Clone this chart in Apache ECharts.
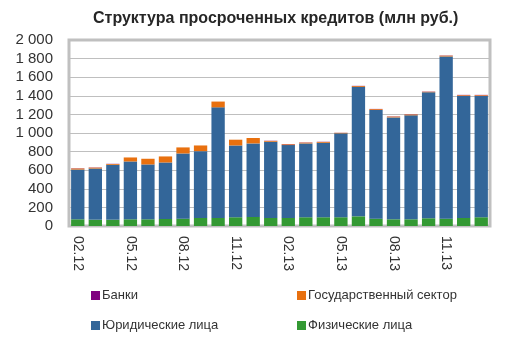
<!DOCTYPE html>
<html>
<head>
<meta charset="utf-8">
<script src="https://cdn.jsdelivr.net/npm/echarts@6/dist/echarts.min.js"></script>
<style>
  html, body { margin: 0; padding: 0; background: #ffffff; }
  #chart { width: 516px; height: 346px; }
</style>
</head>
<body>
<div id="chart"></div>
<script>
// Months shown on the category axis
const months = ['02.12','03.12','04.12','05.12','06.12','07.12','08.12','09.12','10.12','11.12','12.12','01.13',
                '02.13','03.13','04.13','05.13','06.13','07.13','08.13','09.13','10.13','11.13','12.13','01.14'];

// Overdue loans by borrower group, mln rub.
const individuals = [72, 68, 68, 72, 72, 75, 79, 86, 86, 94, 97, 86,
                     87, 94, 94, 94, 104, 79, 72, 72, 83, 79, 87, 94];
const companies   = [535, 550, 590, 622, 590, 608, 701, 719, 1190, 772, 791, 820,
                     783, 794, 801, 902, 1392, 1169, 1096, 1118, 1355, 1744, 1312, 1305];
const government  = [12, 10, 9, 43, 61, 65, 65, 61, 62, 62, 58, 9,
                     9, 9, 9, 6, 9, 9, 9, 9, 6, 9, 8, 8];
const banks       = [2, 2, 2, 0, 0, 0, 0, 0, 0, 0, 0, 2,
                     2, 2, 2, 1, 2, 2, 2, 2, 2, 2, 3, 3];

const yTicks = { min: 0, max: 2000, step: 200 };

const FONT = 'Liberation Sans, Arial, sans-serif';
const TXT = '#333333';

const names = {
  banks: 'Банки',
  gov: 'Государственный сектор',
  comp: 'Юридические лица',
  ind: 'Физические лица'
};
const colors = {
  banks: '#800080',
  gov: '#e8700f',
  comp: '#336699',
  ind: '#339933'
};

function fmtThousands(v) {
  return String(v).replace(/\B(?=(\d{3})+(?!\d))/g, ' ');
}

function legendAt(name, left, top) {
  return {
    data: [name],
    left: left,
    top: top,
    icon: 'rect',
    itemWidth: 9,
    itemHeight: 9,
    itemGap: 0,
    padding: 0,
    selectedMode: false,
    textStyle: { fontFamily: FONT, fontSize: 13, color: TXT, padding: [0, 0, 0, -3] }
  };
}

function barSeries(key, data) {
  return {
    name: names[key],
    type: 'bar',
    stack: 'total',
    data: data,
    barCategoryGap: '24%',
    itemStyle: { color: colors[key] },
    emphasis: { disabled: true }
  };
}

const chart = echarts.init(document.getElementById('chart'), null, { renderer: 'canvas' });

chart.setOption({
  animation: false,
  backgroundColor: '#ffffff',
  title: {
    text: 'Структура просроченных кредитов (млн руб.)',
    left: 88,
    top: 6,
    textStyle: { fontFamily: FONT, fontSize: 16, fontWeight: 'bold', color: '#262626' }
  },
  legend: [
    legendAt(names.banks, 91, 289),
    legendAt(names.gov, 297, 289),
    legendAt(names.comp, 91, 319),
    legendAt(names.ind, 297, 319)
  ],
  grid: {
    left: 69,
    right: 26,
    top: 40,
    bottom: 120,
    show: true,
    borderColor: '#c0c0c0',
    borderWidth: 3,
    backgroundColor: '#ffffff'
  },
  xAxis: {
    type: 'category',
    data: months,
    axisLine: { show: false },
    axisTick: { show: false },
    axisLabel: {
      interval: 2,
      rotate: -90,
      margin: 10,
      fontFamily: FONT,
      fontSize: 14,
      color: TXT
    }
  },
  yAxis: {
    type: 'value',
    min: yTicks.min,
    max: yTicks.max,
    interval: yTicks.step,
    axisLine: { show: false },
    axisTick: { show: false },
    splitLine: { lineStyle: { color: '#bfbfbf', width: 1 } },
    axisLabel: {
      margin: 16,
      fontFamily: FONT,
      fontSize: 15,
      color: TXT,
      formatter: fmtThousands
    }
  },
  series: [
    barSeries('ind', individuals),
    barSeries('comp', companies),
    barSeries('gov', government),
    barSeries('banks', banks)
  ]
});
</script>
</body>
</html>
